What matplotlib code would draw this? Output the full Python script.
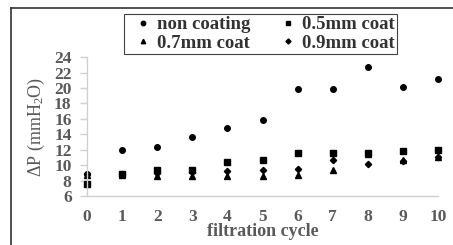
import matplotlib
matplotlib.use("Agg")
import matplotlib.pyplot as plt
from matplotlib.lines import Line2D

plt.rcParams['font.family'] = ['Liberation Serif', 'DejaVu Serif']
plt.rcParams['mathtext.fontset'] = 'custom'
plt.rcParams['mathtext.rm'] = 'Liberation Serif'
plt.rcParams['mathtext.it'] = 'Liberation Serif:italic'

cycles = [0, 1, 2, 3, 4, 5, 6, 7, 8, 9, 10]
non_coating = [8.8, 12.0, 12.4, 13.7, 14.8, 15.9, 19.8, 19.8, 22.7, 20.1, 21.2]
coat_05 = [7.5, 8.9, 9.4, 9.4, 10.4, 10.6, 11.6, 11.6, 11.6, 11.8, 11.9]
coat_07 = [8.7, 8.7, 8.6, 8.6, 8.6, 8.6, 8.7, 9.4, 11.5, 10.7, 11.0]
coat_09 = [8.8, 8.9, 9.0, 9.1, 9.3, 9.4, 9.5, 10.6, 10.1, 10.5, 11.0]

gray = '#595959'

fig = plt.figure(figsize=(4.53, 2.45), dpi=100)
ax = fig.add_axes([0.192, 0.2, 0.775, 0.567])

h1, = ax.plot(cycles, non_coating, 'o', color='black', ms=4, clip_on=False)
h2, = ax.plot(cycles, coat_05, 's', color='black', ms=4, clip_on=False)
h3, = ax.plot(cycles, coat_07, '^', color='black', ms=4, clip_on=False)
h4, = ax.plot(cycles, coat_09, 'D', color='black', ms=3.2, clip_on=False)

ax.set_xlim(0, 10)
ax.set_ylim(6, 24)
ax.set_xticks(cycles)
ax.set_yticks(range(6, 25, 2))

for s in ['top', 'right']:
    ax.spines[s].set_visible(False)
for s in ['left', 'bottom']:
    ax.spines[s].set_color('#d0d0d0')
    ax.spines[s].set_linewidth(1.0)

ax.tick_params(axis='y', colors='#d0d0d0', length=5, width=1, pad=6,
               labelcolor=gray, labelsize=12.5)
ax.tick_params(axis='x', length=0, pad=9, labelcolor=gray, labelsize=12.5)
for lab in ax.get_xticklabels() + ax.get_yticklabels():
    lab.set_fontweight('bold')

ax.set_xlabel('filtration cycle', fontsize=13, fontweight='bold', color=gray, labelpad=-1)
ax.set_ylabel(r'$\Delta$P (mmH$_2$O)', fontsize=13, color=gray, labelpad=5)

# column-wise fill -> row 1: non coating, 0.5mm ; row 2: 0.7mm, 0.9mm
leg = fig.legend([h1, h3, h2, h4],
                 ['non coating', '0.7mm coat', '0.5mm coat', '0.9mm coat'],
                 loc='upper left', bbox_to_anchor=(124 / 453, 1 - 14 / 245), ncol=2,
                 frameon=True, fancybox=False, edgecolor='#404040', framealpha=1,
                 prop={'weight': 'bold', 'size': 13.5}, handlelength=1.8,
                 handletextpad=-0.15, columnspacing=1.1, borderpad=0.12,
                 borderaxespad=0, labelspacing=0.08, markerscale=0.8)
leg.get_frame().set_linewidth(0.8)
for t in leg.get_texts():
    t.set_color('#333333')

fig.add_artist(Line2D([11 / 453, 11 / 453], [0, 1 - 8 / 245], color='#333333', lw=1.2,
                      transform=fig.transFigure))
fig.add_artist(Line2D([11 / 453, 1], [1 - 8 / 245, 1 - 8 / 245], color='#333333', lw=1.2,
                      transform=fig.transFigure))

fig.savefig('out.png', dpi=100)
